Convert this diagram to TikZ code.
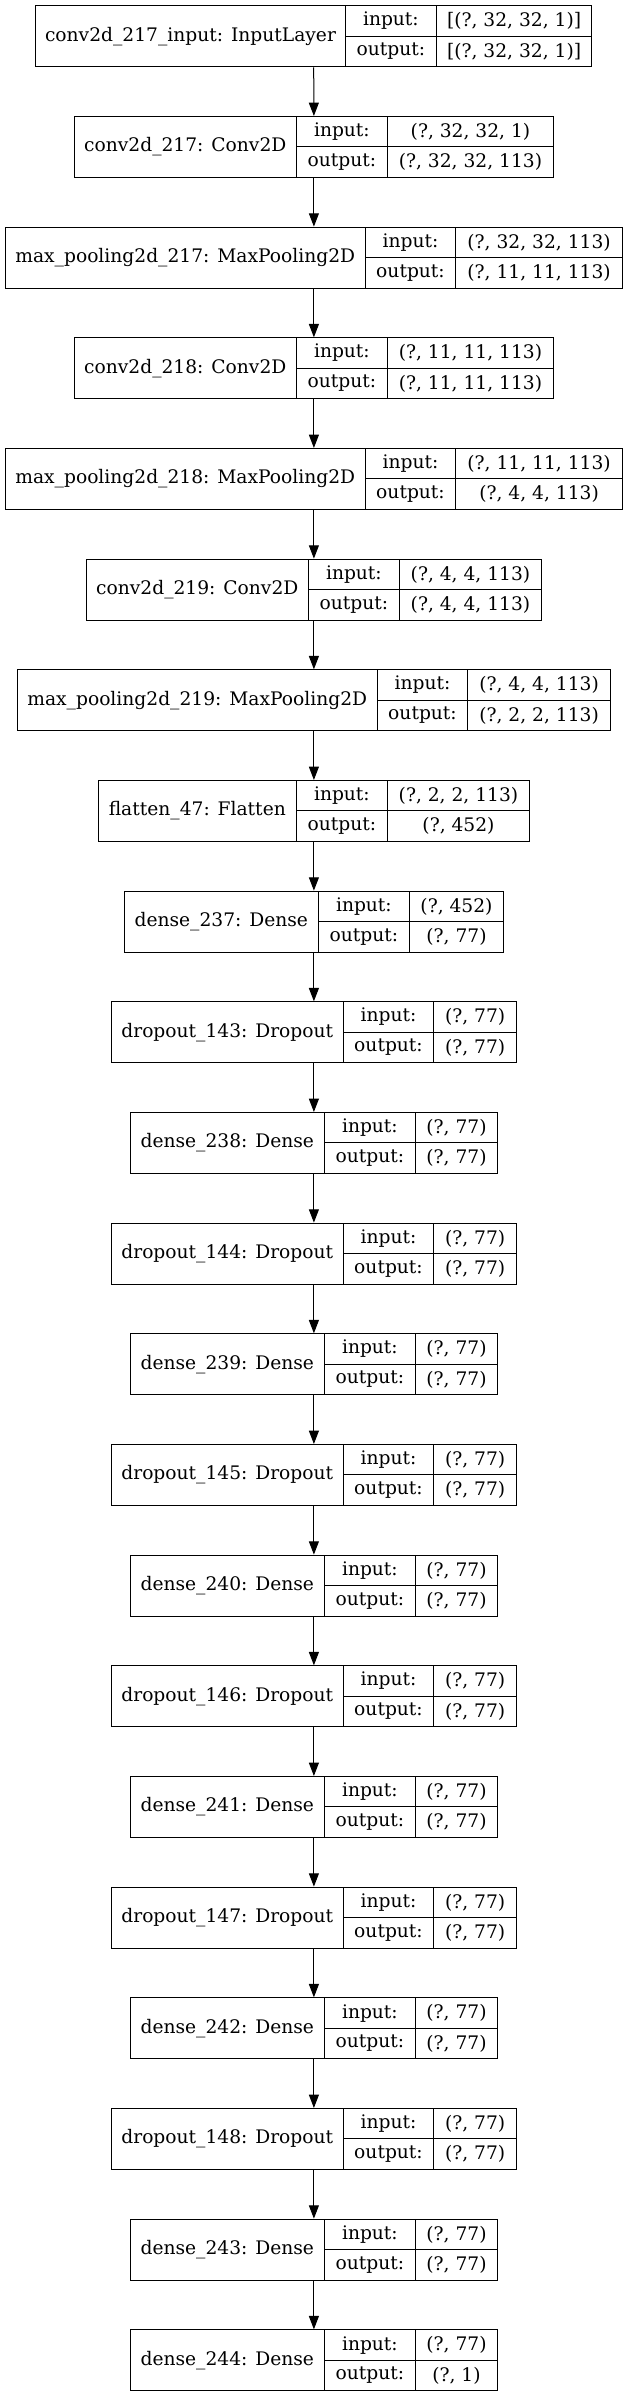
\documentclass[tikz,border=0pt]{standalone}
\usepackage{fontspec}
\setmainfont{DejaVu Serif}
\usetikzlibrary{arrows.meta}

\tikzset{every picture/.style={line width=0.75pt}}
\tikzset{
  layerbox/.style={draw=black, inner sep=0pt, minimum height=45.75pt},
  cellline/.style={draw=black},
  celltext/.style={inner sep=0pt, font=\fontsize{14}{17}\selectfont},
  flow/.style={draw=black, -{Triangle[length=10pt,width=7.5pt]}}
}

\begin{document}
\begin{tikzpicture}[x=0.75pt,y=0.75pt,yscale=-1,xscale=1]
\path [use as bounding box, fill=white] (0,0) rectangle (628,2397) ;

%Shape: Rectangle [id:conv2d_217_input]
\node [layerbox, minimum width=417.0pt] (L0) at (313.7,36.3) {};
\draw [cellline] (345.3,5.8) -- (345.3,66.8) (436.5,5.8) -- (436.5,66.8) (345.3,36.3) -- (591.7,36.3) ;
% Text Node
\draw (190.5,36.3) node [celltext] (n0) {conv2d\_217\_input: InputLayer};
\draw (390.9,21.05) node [celltext] (i0) {input:};
\draw (390.9,51.55) node [celltext] (o0) {output:};
\draw (514.1,21.05) node [celltext] (vi0) {[(?, 32, 32, 1)]};
\draw (514.1,51.55) node [celltext] (vo0) {[(?, 32, 32, 1)]};

%Shape: Rectangle [id:conv2d_217]
\node [layerbox, minimum width=359.7pt] (L1) at (313.9,146.97) {};
\draw [cellline] (296.5,116.47) -- (296.5,177.47) (387.3,116.47) -- (387.3,177.47) (296.5,146.97) -- (553.7,146.97) ;
% Text Node
\draw (185.3,146.97) node [celltext] (n1) {conv2d\_217: Conv2D};
\draw (341.9,131.72) node [celltext] (i1) {input:};
\draw (341.9,162.22) node [celltext] (o1) {output:};
\draw (470.5,131.72) node [celltext] (vi1) {(?, 32, 32, 1)};
\draw (470.5,162.22) node [celltext] (vo1) {(?, 32, 32, 113)};

%Shape: Rectangle [id:max_pooling2d_217]
\node [layerbox, minimum width=462.9pt] (L2) at (313.9,257.63) {};
\draw [cellline] (365.3,227.13) -- (365.3,288.13) (455.7,227.13) -- (455.7,288.13) (365.3,257.63) -- (622.5,257.63) ;
% Text Node
\draw (185.3,257.63) node [celltext] (n2) {max\_pooling2d\_217: MaxPooling2D};
\draw (410.5,242.38) node [celltext] (i2) {input:};
\draw (410.5,272.88) node [celltext] (o2) {output:};
\draw (539.1,242.38) node [celltext] (vi2) {(?, 32, 32, 113)};
\draw (539.1,272.88) node [celltext] (vo2) {(?, 11, 11, 113)};

%Shape: Rectangle [id:conv2d_218]
\node [layerbox, minimum width=359.7pt] (L3) at (313.9,368.3) {};
\draw [cellline] (296.5,337.8) -- (296.5,398.8) (387.3,337.8) -- (387.3,398.8) (296.5,368.3) -- (553.7,368.3) ;
% Text Node
\draw (185.3,368.3) node [celltext] (n3) {conv2d\_218: Conv2D};
\draw (341.9,353.05) node [celltext] (i3) {input:};
\draw (341.9,383.55) node [celltext] (o3) {output:};
\draw (470.5,353.05) node [celltext] (vi3) {(?, 11, 11, 113)};
\draw (470.5,383.55) node [celltext] (vo3) {(?, 11, 11, 113)};

%Shape: Rectangle [id:max_pooling2d_218]
\node [layerbox, minimum width=462.9pt] (L4) at (313.9,478.97) {};
\draw [cellline] (365.3,448.47) -- (365.3,509.47) (455.7,448.47) -- (455.7,509.47) (365.3,478.97) -- (622.5,478.97) ;
% Text Node
\draw (185.3,478.97) node [celltext] (n4) {max\_pooling2d\_218: MaxPooling2D};
\draw (410.5,463.72) node [celltext] (i4) {input:};
\draw (410.5,494.22) node [celltext] (o4) {output:};
\draw (539.1,463.72) node [celltext] (vi4) {(?, 11, 11, 113)};
\draw (539.1,494.22) node [celltext] (vo4) {(?, 4, 4, 113)};

%Shape: Rectangle [id:conv2d_219]
\node [layerbox, minimum width=341.7pt] (L5) at (313.9,589.63) {};
\draw [cellline] (308.5,559.13) -- (308.5,620.13) (399.3,559.13) -- (399.3,620.13) (308.5,589.63) -- (541.7,589.63) ;
% Text Node
\draw (197.3,589.63) node [celltext] (n5) {conv2d\_219: Conv2D};
\draw (353.9,574.38) node [celltext] (i5) {input:};
\draw (353.9,604.88) node [celltext] (o5) {output:};
\draw (470.5,574.38) node [celltext] (vi5) {(?, 4, 4, 113)};
\draw (470.5,604.88) node [celltext] (vo5) {(?, 4, 4, 113)};

%Shape: Rectangle [id:max_pooling2d_219]
\node [layerbox, minimum width=444.9pt] (L6) at (313.9,700.3) {};
\draw [cellline] (377.3,669.8) -- (377.3,730.8) (467.7,669.8) -- (467.7,730.8) (377.3,700.3) -- (610.5,700.3) ;
% Text Node
\draw (197.3,700.3) node [celltext] (n6) {max\_pooling2d\_219: MaxPooling2D};
\draw (422.5,685.05) node [celltext] (i6) {input:};
\draw (422.5,715.55) node [celltext] (o6) {output:};
\draw (539.1,685.05) node [celltext] (vi6) {(?, 4, 4, 113)};
\draw (539.1,715.55) node [celltext] (vo6) {(?, 2, 2, 113)};

%Shape: Rectangle [id:flatten_47]
\node [layerbox, minimum width=323.7pt] (L7) at (313.9,810.97) {};
\draw [cellline] (296.5,780.47) -- (296.5,841.47) (387.3,780.47) -- (387.3,841.47) (296.5,810.97) -- (529.7,810.97) ;
% Text Node
\draw (197.3,810.97) node [celltext] (n7) {flatten\_47: Flatten};
\draw (341.9,795.72) node [celltext] (i7) {input:};
\draw (341.9,826.22) node [celltext] (o7) {output:};
\draw (458.5,795.72) node [celltext] (vi7) {(?, 2, 2, 113)};
\draw (458.5,826.22) node [celltext] (vo7) {(?, 452)};

%Shape: Rectangle [id:dense_237]
\node [layerbox, minimum width=284.7pt] (L8) at (313.9,921.63) {};
\draw [cellline] (318.5,891.13) -- (318.5,952.13) (409.3,891.13) -- (409.3,952.13) (318.5,921.63) -- (503.7,921.63) ;
% Text Node
\draw (221.3,921.63) node [celltext] (n8) {dense\_237: Dense};
\draw (363.9,906.38) node [celltext] (i8) {input:};
\draw (363.9,936.88) node [celltext] (o8) {output:};
\draw (456.5,906.38) node [celltext] (vi8) {(?, 452)};
\draw (456.5,936.88) node [celltext] (vo8) {(?, 77)};

%Shape: Rectangle [id:dropout_143]
\node [layerbox, minimum width=303.9pt] (L9) at (313.9,1032.3) {};
\draw [cellline] (343.3,1001.8) -- (343.3,1062.8) (433.7,1001.8) -- (433.7,1062.8) (343.3,1032.3) -- (516.5,1032.3) ;
% Text Node
\draw (227.3,1032.3) node [celltext] (n9) {dropout\_143: Dropout};
\draw (388.5,1017.05) node [celltext] (i9) {input:};
\draw (388.5,1047.55) node [celltext] (o9) {output:};
\draw (475.1,1017.05) node [celltext] (vi9) {(?, 77)};
\draw (475.1,1047.55) node [celltext] (vo9) {(?, 77)};

%Shape: Rectangle [id:dense_238]
\node [layerbox, minimum width=275.7pt] (L10) at (313.9,1142.97) {};
\draw [cellline] (324.5,1112.47) -- (324.5,1173.47) (415.3,1112.47) -- (415.3,1173.47) (324.5,1142.97) -- (497.7,1142.97) ;
% Text Node
\draw (227.3,1142.97) node [celltext] (n10) {dense\_238: Dense};
\draw (369.9,1127.72) node [celltext] (i10) {input:};
\draw (369.9,1158.22) node [celltext] (o10) {output:};
\draw (456.5,1127.72) node [celltext] (vi10) {(?, 77)};
\draw (456.5,1158.22) node [celltext] (vo10) {(?, 77)};

%Shape: Rectangle [id:dropout_144]
\node [layerbox, minimum width=303.9pt] (L11) at (313.9,1253.63) {};
\draw [cellline] (343.3,1223.13) -- (343.3,1284.13) (433.7,1223.13) -- (433.7,1284.13) (343.3,1253.63) -- (516.5,1253.63) ;
% Text Node
\draw (227.3,1253.63) node [celltext] (n11) {dropout\_144: Dropout};
\draw (388.5,1238.38) node [celltext] (i11) {input:};
\draw (388.5,1268.88) node [celltext] (o11) {output:};
\draw (475.1,1238.38) node [celltext] (vi11) {(?, 77)};
\draw (475.1,1268.88) node [celltext] (vo11) {(?, 77)};

%Shape: Rectangle [id:dense_239]
\node [layerbox, minimum width=275.7pt] (L12) at (313.9,1364.3) {};
\draw [cellline] (324.5,1333.8) -- (324.5,1394.8) (415.3,1333.8) -- (415.3,1394.8) (324.5,1364.3) -- (497.7,1364.3) ;
% Text Node
\draw (227.3,1364.3) node [celltext] (n12) {dense\_239: Dense};
\draw (369.9,1349.05) node [celltext] (i12) {input:};
\draw (369.9,1379.55) node [celltext] (o12) {output:};
\draw (456.5,1349.05) node [celltext] (vi12) {(?, 77)};
\draw (456.5,1379.55) node [celltext] (vo12) {(?, 77)};

%Shape: Rectangle [id:dropout_145]
\node [layerbox, minimum width=303.9pt] (L13) at (313.9,1474.97) {};
\draw [cellline] (343.3,1444.47) -- (343.3,1505.47) (433.7,1444.47) -- (433.7,1505.47) (343.3,1474.97) -- (516.5,1474.97) ;
% Text Node
\draw (227.3,1474.97) node [celltext] (n13) {dropout\_145: Dropout};
\draw (388.5,1459.72) node [celltext] (i13) {input:};
\draw (388.5,1490.22) node [celltext] (o13) {output:};
\draw (475.1,1459.72) node [celltext] (vi13) {(?, 77)};
\draw (475.1,1490.22) node [celltext] (vo13) {(?, 77)};

%Shape: Rectangle [id:dense_240]
\node [layerbox, minimum width=275.7pt] (L14) at (313.9,1585.63) {};
\draw [cellline] (324.5,1555.13) -- (324.5,1616.13) (415.3,1555.13) -- (415.3,1616.13) (324.5,1585.63) -- (497.7,1585.63) ;
% Text Node
\draw (227.3,1585.63) node [celltext] (n14) {dense\_240: Dense};
\draw (369.9,1570.38) node [celltext] (i14) {input:};
\draw (369.9,1600.88) node [celltext] (o14) {output:};
\draw (456.5,1570.38) node [celltext] (vi14) {(?, 77)};
\draw (456.5,1600.88) node [celltext] (vo14) {(?, 77)};

%Shape: Rectangle [id:dropout_146]
\node [layerbox, minimum width=303.9pt] (L15) at (313.9,1696.3) {};
\draw [cellline] (343.3,1665.8) -- (343.3,1726.8) (433.7,1665.8) -- (433.7,1726.8) (343.3,1696.3) -- (516.5,1696.3) ;
% Text Node
\draw (227.3,1696.3) node [celltext] (n15) {dropout\_146: Dropout};
\draw (388.5,1681.05) node [celltext] (i15) {input:};
\draw (388.5,1711.55) node [celltext] (o15) {output:};
\draw (475.1,1681.05) node [celltext] (vi15) {(?, 77)};
\draw (475.1,1711.55) node [celltext] (vo15) {(?, 77)};

%Shape: Rectangle [id:dense_241]
\node [layerbox, minimum width=275.7pt] (L16) at (313.9,1806.97) {};
\draw [cellline] (324.5,1776.47) -- (324.5,1837.47) (415.3,1776.47) -- (415.3,1837.47) (324.5,1806.97) -- (497.7,1806.97) ;
% Text Node
\draw (227.3,1806.97) node [celltext] (n16) {dense\_241: Dense};
\draw (369.9,1791.72) node [celltext] (i16) {input:};
\draw (369.9,1822.22) node [celltext] (o16) {output:};
\draw (456.5,1791.72) node [celltext] (vi16) {(?, 77)};
\draw (456.5,1822.22) node [celltext] (vo16) {(?, 77)};

%Shape: Rectangle [id:dropout_147]
\node [layerbox, minimum width=303.9pt] (L17) at (313.9,1917.63) {};
\draw [cellline] (343.3,1887.13) -- (343.3,1948.13) (433.7,1887.13) -- (433.7,1948.13) (343.3,1917.63) -- (516.5,1917.63) ;
% Text Node
\draw (227.3,1917.63) node [celltext] (n17) {dropout\_147: Dropout};
\draw (388.5,1902.38) node [celltext] (i17) {input:};
\draw (388.5,1932.88) node [celltext] (o17) {output:};
\draw (475.1,1902.38) node [celltext] (vi17) {(?, 77)};
\draw (475.1,1932.88) node [celltext] (vo17) {(?, 77)};

%Shape: Rectangle [id:dense_242]
\node [layerbox, minimum width=275.7pt] (L18) at (313.9,2028.3) {};
\draw [cellline] (324.5,1997.8) -- (324.5,2058.8) (415.3,1997.8) -- (415.3,2058.8) (324.5,2028.3) -- (497.7,2028.3) ;
% Text Node
\draw (227.3,2028.3) node [celltext] (n18) {dense\_242: Dense};
\draw (369.9,2013.05) node [celltext] (i18) {input:};
\draw (369.9,2043.55) node [celltext] (o18) {output:};
\draw (456.5,2013.05) node [celltext] (vi18) {(?, 77)};
\draw (456.5,2043.55) node [celltext] (vo18) {(?, 77)};

%Shape: Rectangle [id:dropout_148]
\node [layerbox, minimum width=303.9pt] (L19) at (313.9,2138.97) {};
\draw [cellline] (343.3,2108.47) -- (343.3,2169.47) (433.7,2108.47) -- (433.7,2169.47) (343.3,2138.97) -- (516.5,2138.97) ;
% Text Node
\draw (227.3,2138.97) node [celltext] (n19) {dropout\_148: Dropout};
\draw (388.5,2123.72) node [celltext] (i19) {input:};
\draw (388.5,2154.22) node [celltext] (o19) {output:};
\draw (475.1,2123.72) node [celltext] (vi19) {(?, 77)};
\draw (475.1,2154.22) node [celltext] (vo19) {(?, 77)};

%Shape: Rectangle [id:dense_243]
\node [layerbox, minimum width=275.7pt] (L20) at (313.9,2249.63) {};
\draw [cellline] (324.5,2219.13) -- (324.5,2280.13) (415.3,2219.13) -- (415.3,2280.13) (324.5,2249.63) -- (497.7,2249.63) ;
% Text Node
\draw (227.3,2249.63) node [celltext] (n20) {dense\_243: Dense};
\draw (369.9,2234.38) node [celltext] (i20) {input:};
\draw (369.9,2264.88) node [celltext] (o20) {output:};
\draw (456.5,2234.38) node [celltext] (vi20) {(?, 77)};
\draw (456.5,2264.88) node [celltext] (vo20) {(?, 77)};

%Shape: Rectangle [id:dense_244]
\node [layerbox, minimum width=275.7pt] (L21) at (313.9,2360.3) {};
\draw [cellline] (324.5,2329.8) -- (324.5,2390.8) (415.3,2329.8) -- (415.3,2390.8) (324.5,2360.3) -- (497.7,2360.3) ;
% Text Node
\draw (227.3,2360.3) node [celltext] (n21) {dense\_244: Dense};
\draw (369.9,2345.05) node [celltext] (i21) {input:};
\draw (369.9,2375.55) node [celltext] (o21) {output:};
\draw (456.5,2345.05) node [celltext] (vi21) {(?, 77)};
\draw (456.5,2375.55) node [celltext] (vo21) {(?, 1)};

%Straight Lines [id:edges]
\draw [flow] (L0.south) -- (L1.north) ;
\draw [flow] (L1.south) -- (L2.north) ;
\draw [flow] (L2.south) -- (L3.north) ;
\draw [flow] (L3.south) -- (L4.north) ;
\draw [flow] (L4.south) -- (L5.north) ;
\draw [flow] (L5.south) -- (L6.north) ;
\draw [flow] (L6.south) -- (L7.north) ;
\draw [flow] (L7.south) -- (L8.north) ;
\draw [flow] (L8.south) -- (L9.north) ;
\draw [flow] (L9.south) -- (L10.north) ;
\draw [flow] (L10.south) -- (L11.north) ;
\draw [flow] (L11.south) -- (L12.north) ;
\draw [flow] (L12.south) -- (L13.north) ;
\draw [flow] (L13.south) -- (L14.north) ;
\draw [flow] (L14.south) -- (L15.north) ;
\draw [flow] (L15.south) -- (L16.north) ;
\draw [flow] (L16.south) -- (L17.north) ;
\draw [flow] (L17.south) -- (L18.north) ;
\draw [flow] (L18.south) -- (L19.north) ;
\draw [flow] (L19.south) -- (L20.north) ;
\draw [flow] (L20.south) -- (L21.north) ;

\end{tikzpicture}
\end{document}
